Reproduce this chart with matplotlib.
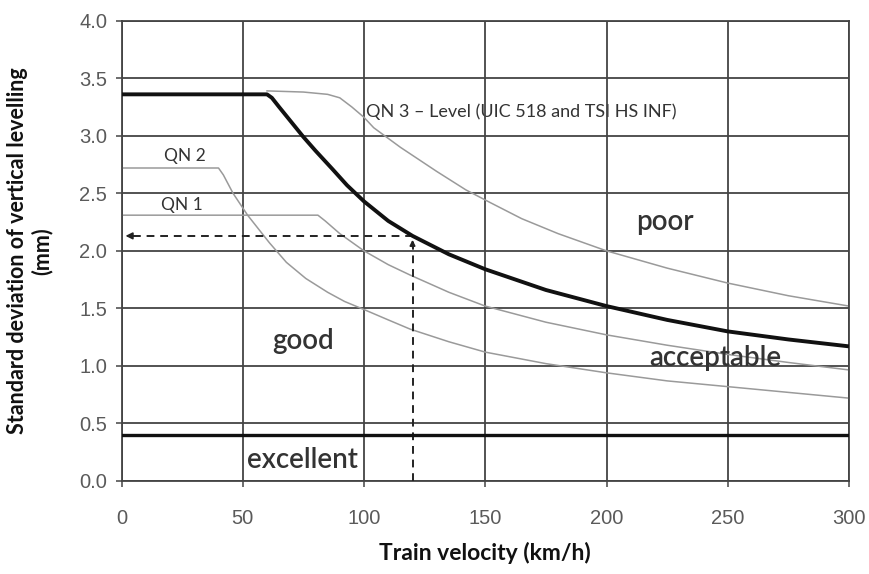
import matplotlib
matplotlib.use("Agg")
import matplotlib.pyplot as plt

# ---- data ----
thick_x = [0, 60, 62, 65, 70, 75, 80, 87, 93, 100, 110, 120, 135, 150, 175, 200, 225, 250, 275, 300]
thick_y = [3.36, 3.36, 3.33, 3.25, 3.12, 2.99, 2.87, 2.71, 2.57, 2.43, 2.26, 2.13, 1.97, 1.84, 1.66, 1.52, 1.40, 1.30, 1.23, 1.17]

qn3_x = [60, 75, 85, 90, 95, 100, 104, 115, 130, 142, 152, 165, 180, 200, 225, 250, 275, 300]
qn3_y = [3.39, 3.38, 3.36, 3.33, 3.25, 3.16, 3.07, 2.90, 2.69, 2.53, 2.42, 2.28, 2.15, 2.00, 1.85, 1.72, 1.61, 1.52]

qn2_x = [0, 40, 42, 46, 52, 61, 68, 76, 85, 92, 100, 110, 119, 135, 150, 175, 200, 225, 250, 275, 300]
qn2_y = [2.72, 2.72, 2.66, 2.50, 2.31, 2.07, 1.90, 1.76, 1.64, 1.56, 1.49, 1.40, 1.32, 1.21, 1.12, 1.02, 0.94, 0.87, 0.82, 0.77, 0.72]

qn1_x = [0, 81, 84, 90, 100, 110, 119, 135, 150, 175, 200, 225, 250, 275, 300]
qn1_y = [2.31, 2.31, 2.26, 2.15, 2.00, 1.88, 1.79, 1.64, 1.52, 1.38, 1.27, 1.18, 1.10, 1.03, 0.965]

excellent_limit = 0.4
example_speed = 120
example_value = 2.13

x_ticks = [0, 50, 100, 150, 200, 250, 300]
y_ticks = [0.0, 0.5, 1.0, 1.5, 2.0, 2.5, 3.0, 3.5, 4.0]

fig = plt.figure(figsize=(8.69, 5.74), dpi=100)
ax = fig.add_axes([121.5 / 869, 1 - 481 / 574, (849 - 121.5) / 869, (481 - 20.7) / 574])

grid_c = "#444444"
for xv in x_ticks:
    ax.axvline(xv, color=grid_c, lw=1.3, zorder=1)
for yv in y_ticks:
    ax.axhline(yv, color=grid_c, lw=1.3, zorder=1)

ax.plot(qn3_x, qn3_y, color="#9a9a9a", lw=1.1, zorder=2)
ax.plot(qn2_x, qn2_y, color="#9a9a9a", lw=1.1, zorder=2)
ax.plot(qn1_x, qn1_y, color="#9a9a9a", lw=1.1, zorder=2)
ax.plot(thick_x, thick_y, color="#111111", lw=2.8, zorder=4, solid_capstyle="butt", solid_joinstyle="round")
ax.plot([0, 300], [excellent_limit, excellent_limit], color="#111111", lw=2.4, zorder=4)

# dashed example lines
ax.plot([example_speed, example_speed], [0, example_value - 0.04], color="#222222", lw=1.4,
        ls=(0, (4, 3)), zorder=3)
ax.plot([example_speed, 3], [example_value, example_value], color="#222222", lw=1.4,
        ls=(0, (4, 3)), zorder=3)
ax.annotate("", xy=(0.5, example_value), xytext=(6, example_value),
            arrowprops=dict(arrowstyle="-|>", color="#222222", lw=1.2, mutation_scale=10), zorder=5)
ax.annotate("", xy=(example_speed, example_value - 0.01), xytext=(example_speed, example_value - 0.12),
            arrowprops=dict(arrowstyle="-|>", color="#222222", lw=1.2, mutation_scale=8), zorder=5)

ax.set_xlim(0, 300)
ax.set_ylim(0, 4.0)
ax.set_xticks(x_ticks)
ax.set_yticks(y_ticks)
ax.set_xticklabels([str(v) for v in x_ticks])
ax.set_yticklabels([f"{v:.1f}" for v in y_ticks])
for s in ax.spines.values():
    s.set_color(grid_c)
    s.set_linewidth(1.3)
ax.tick_params(axis="both", direction="out", length=4.3, width=1.1, color=grid_c,
               labelcolor="#5a5a5a", labelsize=14.5)
ax.tick_params(axis="x", pad=16)
ax.tick_params(axis="y", pad=6)
for lab in ax.get_xticklabels() + ax.get_yticklabels():
    lab.set_family("Liberation Sans")

lbl_font = dict(family="Lato", fontweight="bold", color="#111111")
ax.set_xlabel("Train velocity (km/h)", labelpad=10, fontsize=16.5, **lbl_font)
ax.set_ylabel("Standard deviation of vertical levelling\n(mm)", linespacing=1.15, fontsize=15.5, **lbl_font)
ax.yaxis.set_label_coords(-0.095, 0.5)

txt = dict(family="Lato", color="#333333")
ax.text(101, 3.21, "QN 3 \u2013 Level (UIC 518 and TSI HS INF)", fontsize=13, va="center", ha="left", zorder=0.5, **txt)
ax.text(26, 2.82, "QN 2", fontsize=12.5, va="center", ha="center", **txt)
ax.text(25, 2.40, "QN 1", fontsize=12.5, va="center", ha="center", **txt)
ax.text(224, 2.25, "poor", fontsize=20, va="center", ha="center", fontweight="semibold", **txt)
ax.text(75, 1.22, "good", fontsize=20, va="center", ha="center", fontweight="semibold", **txt)
ax.text(245, 1.07, "acceptable", fontsize=20, va="center", ha="center", fontweight="semibold", **txt)
ax.text(74.5, 0.18, "excellent", fontsize=20, va="center", ha="center", fontweight="semibold", **txt)

fig.savefig("out.png", dpi=100, facecolor="white")
